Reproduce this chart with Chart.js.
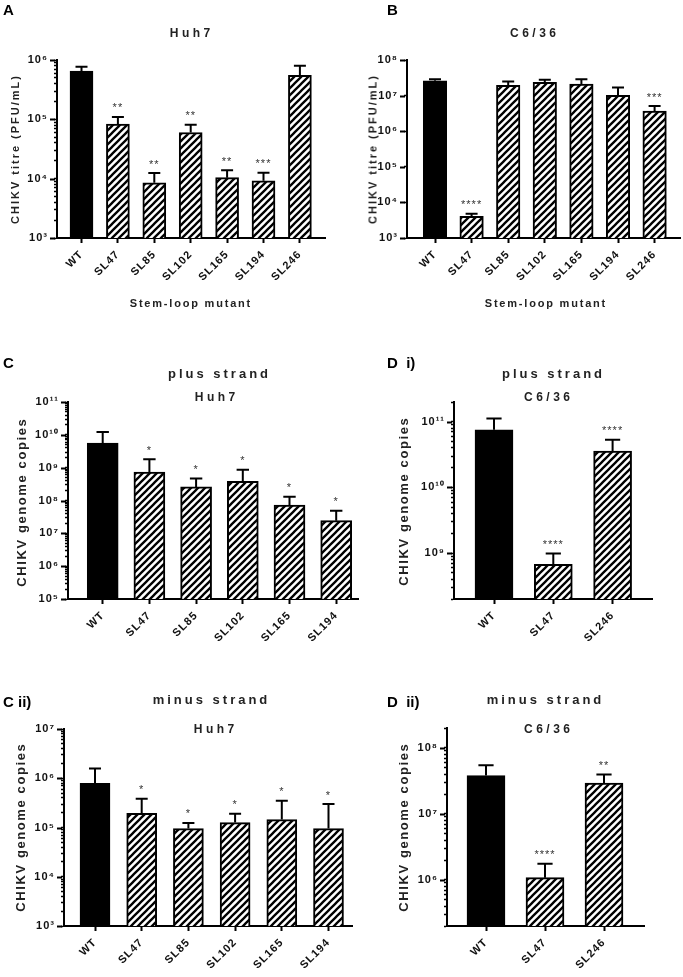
<!DOCTYPE html>
<html>
<head>
<meta charset="utf-8">
<script src="https://cdn.jsdelivr.net/npm/chart.js@4.4.0/dist/chart.umd.min.js"></script>
<style>
  body { margin: 0; background: #fff; }
  #page { position: relative; width: 683px; height: 977px; overflow: hidden;
          font-family: "Liberation Sans", Arial, sans-serif; color: #222; }
  canvas { position: absolute; left: 0; top: 0; }
  .txt { position: absolute; font-weight: bold; line-height: 1; white-space: pre; }
</style>
</head>
<body>
<div id="page"></div>
<script>
// categories
const mutantsAll = ['WT', 'SL47', 'SL85', 'SL102', 'SL165', 'SL194', 'SL246'];
const mutantsHuh7 = ['WT', 'SL47', 'SL85', 'SL102', 'SL165', 'SL194'];
const mutantsC636 = ['WT', 'SL47', 'SL246'];

// A - CHIKV titre in Huh7 (PFU/mL): mean, SD above, significance
const titreHuh7 = [6.5e5, 8.3e4, 8.5e3, 6.0e4, 1.04e4, 9.2e3, 5.5e5];
const titreHuh7Err = [1.2e5, 2.7e4, 3.9e3, 2.1e4, 3.5e3, 3.4e3, 2.5e5];
const titreHuh7Sig = ['', '**', '**', '**', '**', '***', ''];

// B - CHIKV titre in C6/36
const titreC636 = [2.6e7, 4.05e3, 1.95e7, 2.37e7, 2.1e7, 1.02e7, 3.7e6];
const titreC636Err = [3.0e6, 7.5e2, 5.5e6, 4.3e6, 7.7e6, 6.8e6, 1.4e6];
const titreC636Sig = ['', '****', '', '', '', '', '***'];

// C - plus strand genome copies, Huh7
const plusHuh7 = [5.6e9, 7.4e8, 2.6e8, 3.86e8, 7.3e7, 2.43e7];
const plusHuh7Err = [6.5e9, 1.06e9, 2.06e8, 4.74e8, 5.8e7, 2.47e7];
const plusHuh7Sig = ['', '*', '*', '*', '*', '*'];

// D i - plus strand, C6/36
const plusC636 = [7.56e10, 6.73e8, 3.58e10];
const plusC636Err = [3.64e10, 3.17e8, 1.72e10];
const plusC636Sig = ['', '****', '****'];

// C ii - minus strand, Huh7
const minusHuh7 = [7.85e5, 1.93e5, 9.5e4, 1.26e5, 1.45e5, 9.5e4];
const minusHuh7Err = [7.95e5, 1.9e5, 2.9e4, 6.4e4, 2.03e5, 2.05e5];
const minusHuh7Sig = ['', '*', '*', '*', '*', '*'];

// D ii - minus strand, C6/36
const minusC636 = [3.8e7, 1.08e6, 2.94e7];
const minusC636Err = [1.65e7, 6.7e5, 1.0e7];
const minusC636Sig = ['', '****', '**'];

// y axis ranges
const rangeA = [1e3, 1e6];
const rangeB = [1e3, 1e8];
const rangeC = [1e5, 1e11];
const rangeDi = [2e8, 2e11];
const rangeCii = [1e3, 1e7];
const rangeDii = [2e5, 2e8];

const FONT = '"Liberation Sans", Arial, sans-serif';
const W = 683, H = 977, Y_W = 45, X_H = 50;
const page = document.getElementById('page');

// hatch fill
const hatchCanvas = document.createElement('canvas');
hatchCanvas.width = 7; hatchCanvas.height = 7;
const hc = hatchCanvas.getContext('2d');
hc.fillStyle = '#fff';
hc.fillRect(0, 0, 7, 7);
hc.strokeStyle = '#000';
hc.lineWidth = 2.3;
hc.beginPath();
hc.moveTo(-1, 8); hc.lineTo(8, -1);
hc.moveTo(-2, 2); hc.lineTo(2, -2);
hc.moveTo(5, 9); hc.lineTo(9, 5);
hc.stroke();
const hatch = hc.createPattern(hatchCanvas, 'repeat');

const SUP = '⁰¹²³⁴⁵⁶⁷⁸⁹';
const sup = n => String(n).split('').map(d => SUP[+d]).join('');

function logTicks(min, max, minor) {
  const out = [];
  for (let e = Math.floor(Math.log10(min)); e <= Math.ceil(Math.log10(max)); e++) {
    for (let m = 1; m <= 9; m++) {
      if (!minor && m > 1) break;
      const v = Number((m * Math.pow(10, e)).toPrecision(6));
      if (v >= min * 0.999 && v <= max * 1.001) out.push(v);
    }
  }
  return out;
}
const isPow10 = v => Math.abs(Math.log10(v) - Math.round(Math.log10(v))) < 1e-9;

function addText(text, x, y, size, spacing, opts = {}) {
  const d = document.createElement('div');
  d.className = 'txt';
  d.textContent = text;
  d.style.fontSize = size + 'px';
  d.style.letterSpacing = spacing + 'px';
  d.style.paddingLeft = (opts.left ? 0 : spacing) + 'px';
  d.style.left = x + 'px';
  d.style.top = y + 'px';
  if (opts.color) d.style.color = opts.color;
  d.style.transform = opts.left ? 'translate(0,-50%)'
    : opts.rotate ? 'translate(-50%,-50%) rotate(-90deg)' : 'translate(-50%,-50%)';
  page.appendChild(d);
}

// error bars (upper only), significance stars, longer major ticks on y
function errorPlugin(means, errors, stars) {
  return {
    id: 'errorBars',
    beforeDraw(chart) { chart.ctx.letterSpacing = '1px'; },
    afterDatasetsDraw(chart) {
      const ctx = chart.ctx, y = chart.scales.y;
      chart.getDatasetMeta(0).data.forEach((bar, i) => {
        const top = y.getPixelForValue(means[i] + errors[i]);
        const half = Math.max(6, bar.width * 0.2);
        ctx.save();
        ctx.strokeStyle = '#000';
        ctx.lineWidth = 2;
        ctx.beginPath();
        ctx.moveTo(bar.x, bar.y); ctx.lineTo(bar.x, top);
        ctx.moveTo(bar.x - half, top); ctx.lineTo(bar.x + half, top);
        ctx.stroke();
        if (stars[i]) {
          ctx.fillStyle = '#333';
          ctx.font = '11px ' + FONT;
          ctx.textAlign = 'center';
          ctx.textBaseline = 'bottom';
          ctx.fillText(stars[i], bar.x, top - 3);
        }
        ctx.restore();
      });
    },
    afterDraw(chart) {
      const ctx = chart.ctx, y = chart.scales.y, x0 = chart.chartArea.left;
      ctx.save();
      ctx.strokeStyle = '#000';
      ctx.lineWidth = 2;
      ctx.beginPath();
      y.ticks.forEach(t => {
        if (!isPow10(t.value)) return;
        const py = Math.round(y.getPixelForValue(t.value)) + 0.5;
        ctx.moveTo(x0 - 2, py); ctx.lineTo(x0 - 7, py);
      });
      ctx.stroke();
      ctx.restore();
      ctx.letterSpacing = '0px';
    }
  };
}

function makePanel(p) {
  const cv = document.createElement('canvas');
  cv.width = W; cv.height = H;
  page.appendChild(cv);
  const a = p.area;
  new Chart(cv, {
    type: 'bar',
    data: {
      datasets: [{
        data: p.values.map((v, i) => ({ x: i, y: v })),
        backgroundColor: p.values.map((v, i) => i === 0 ? '#000' : hatch),
        borderColor: '#000',
        borderWidth: 2,
        barThickness: p.bar
      }]
    },
    options: {
      responsive: false,
      animation: false,
      devicePixelRatio: 1,
      layout: { padding: { left: a.l - Y_W, top: a.t, right: W - a.r, bottom: H - a.b - X_H } },
      plugins: { legend: { display: false }, tooltip: { enabled: false } },
      scales: {
        x: {
          type: 'linear',
          offset: false,
          min: (a.l - p.first) / p.step,
          max: (a.r - p.first) / p.step,
          afterBuildTicks: s => { s.ticks = p.labels.map((_, i) => ({ value: i })); },
          afterFit: s => { s.height = X_H; s.paddingLeft = 0; s.paddingRight = 0; },
          border: { display: true, color: '#000', width: 2 },
          grid: { offset: false, drawOnChartArea: false, tickLength: 5, tickWidth: 2, tickColor: '#000' },
          ticks: {
            autoSkip: false, minRotation: 45, maxRotation: 45, padding: 5,
            color: '#111', font: { family: FONT, size: 11, weight: 'bold' },
            callback: (v, i) => p.labels[i]
          }
        },
        y: {
          type: 'logarithmic',
          min: p.range[0],
          max: p.range[1],
          afterBuildTicks: s => {
            s.ticks = logTicks(p.range[0], p.range[1], p.minor).map(v => ({ value: v, major: isPow10(v) }));
          },
          afterFit: s => { s.width = Y_W; s.paddingTop = 0; s.paddingBottom = 0; },
          border: { display: true, color: '#000', width: 2 },
          grid: { drawOnChartArea: false, tickLength: 3, tickColor: '#000', tickWidth: 1.3 },
          ticks: {
            autoSkip: false, padding: 6,
            color: '#111', font: { family: FONT, size: 11, weight: 'bold' },
            callback: v => isPow10(v) ? '10' + sup(Math.round(Math.log10(v))) : ''
          }
        }
      }
    },
    plugins: [errorPlugin(p.values, p.errors, p.stars)]
  });
}

makePanel({ labels: mutantsAll, values: titreHuh7, errors: titreHuh7Err, stars: titreHuh7Sig,
  range: rangeA, minor: true, area: { l: 57, t: 60, r: 325, b: 238 }, first: 81.5, step: 36.4, bar: 23 });
makePanel({ labels: mutantsAll, values: titreC636, errors: titreC636Err, stars: titreC636Sig,
  range: rangeB, minor: false, area: { l: 407, t: 60, r: 680, b: 238 }, first: 435, step: 36.6, bar: 23.5 });
makePanel({ labels: mutantsHuh7, values: plusHuh7, errors: plusHuh7Err, stars: plusHuh7Sig,
  range: rangeC, minor: true, area: { l: 68, t: 402, r: 358, b: 599 }, first: 102.7, step: 46.7, bar: 31 });
makePanel({ labels: mutantsC636, values: plusC636, errors: plusC636Err, stars: plusC636Sig,
  range: rangeDi, minor: true, area: { l: 454, t: 402, r: 652, b: 599 }, first: 494, step: 59.3, bar: 38 });
makePanel({ labels: mutantsHuh7, values: minusHuh7, errors: minusHuh7Err, stars: minusHuh7Sig,
  range: rangeCii, minor: true, area: { l: 64, t: 729, r: 352, b: 926 }, first: 95, step: 46.7, bar: 30 });
makePanel({ labels: mutantsC636, values: minusC636, errors: minusC636Err, stars: minusC636Sig,
  range: rangeDii, minor: true, area: { l: 447, t: 728, r: 644, b: 926 }, first: 486, step: 59, bar: 38 });

// panel letters
addText('A', 3, 9, 15, 0, { left: true, color: '#000' });
addText('B', 387, 9, 15, 0, { left: true, color: '#000' });
addText('C', 3, 362, 15, 0, { left: true, color: '#000' });
addText('D  i)', 387, 362, 15, 0, { left: true, color: '#000' });
addText('C ii)', 3, 701, 15, 0, { left: true, color: '#000' });
addText('D  ii)', 387, 701, 15, 0, { left: true, color: '#000' });

// titles
addText('Huh7', 190, 33, 12, 3.5);
addText('C6/36', 533, 33, 12, 3.5);
addText('plus strand', 218, 373, 13, 3);
addText('Huh7', 215, 397, 12, 3.5);
addText('plus strand', 552, 373, 13, 3);
addText('C6/36', 547, 397, 12, 3.5);
addText('minus strand', 210, 699, 13, 3);
addText('Huh7', 214, 729, 12, 3.5);
addText('minus strand', 544, 699, 13, 3);
addText('C6/36', 547, 729, 12, 3.5);

// axis titles
addText('CHIKV titre (PFU/mL)', 15, 150, 11, 2, { rotate: true });
addText('CHIKV titre (PFU/mL)', 373, 150, 11, 2, { rotate: true });
addText('Stem-loop mutant', 190, 303, 11, 1.8);
addText('Stem-loop mutant', 545, 303, 11, 1.8);
addText('CHIKV genome copies', 21, 503, 13, 1.6, { rotate: true });
addText('CHIKV genome copies', 403, 502, 13, 1.6, { rotate: true });
addText('CHIKV genome copies', 20, 828, 13, 1.6, { rotate: true });
addText('CHIKV genome copies', 403, 828, 13, 1.6, { rotate: true });
</script>
</body>
</html>
